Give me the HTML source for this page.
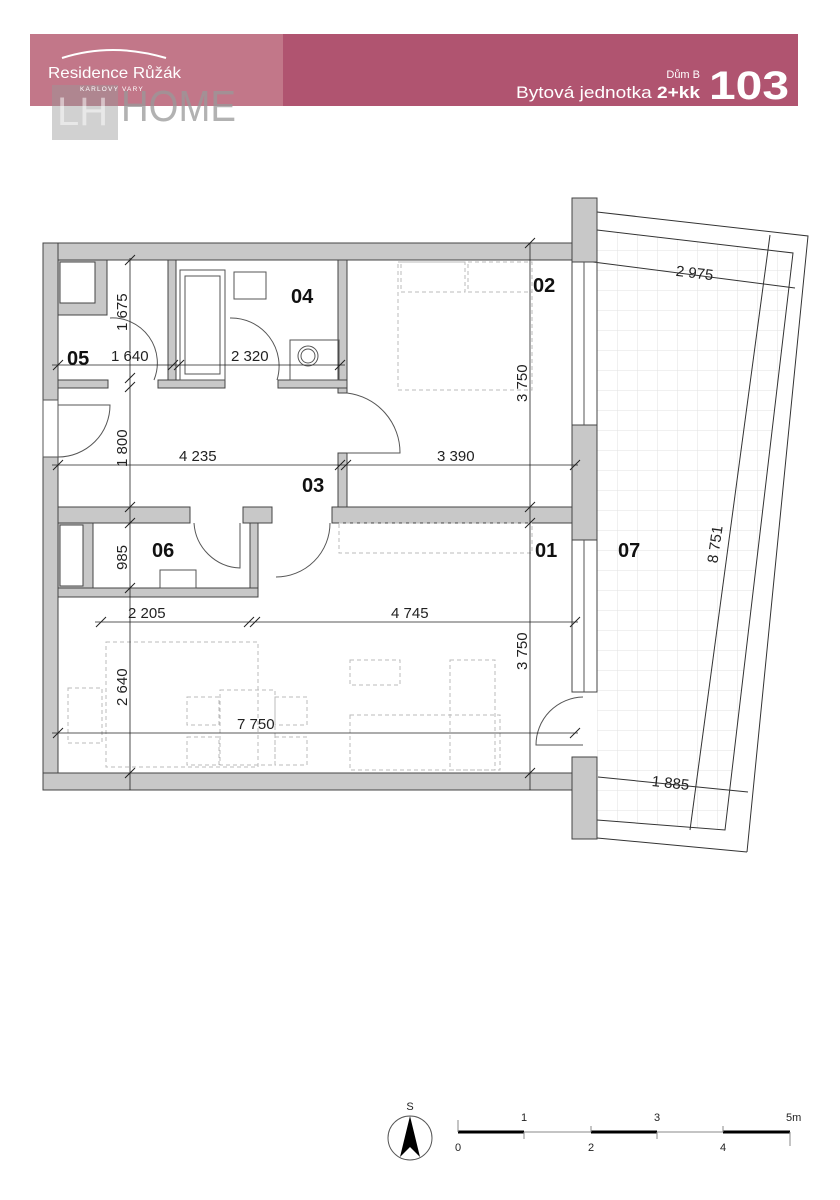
<!DOCTYPE html>
<html><head><meta charset="utf-8"><style>
html,body{margin:0;padding:0;background:#fff;}
svg{display:block;}
text{font-family:"Liberation Sans","DejaVu Sans",sans-serif;}
</style></head><body>
<svg width="840" height="1200" viewBox="0 0 840 1200" xmlns="http://www.w3.org/2000/svg">
<!-- header -->
<rect x="30" y="34" width="768" height="72" fill="#b05470"/>
<rect x="30" y="34" width="253" height="72" fill="#c27789"/>
<rect x="52" y="85" width="66" height="55" fill="#999" opacity="0.45"/>
<text x="57" y="125" font-size="40" fill="#fff" opacity="0.5">LH</text>
<text x="121" y="121" font-size="44" fill="#999" opacity="0.75" textLength="115" lengthAdjust="spacingAndGlyphs">HOME</text>
<path d="M62 58 Q112 42 166 58" stroke="#fff" stroke-width="2" fill="none"/>
<text x="48" y="78" font-size="16" fill="#fff" textLength="133" lengthAdjust="spacingAndGlyphs">Residence Růžák</text>
<text x="80" y="91" font-size="6.5" fill="#fff" letter-spacing="1.2">KARLOVY VARY</text>
<text x="700" y="78" font-size="11" fill="#fff" text-anchor="end">Dům B</text>
<text x="516" y="98" font-size="17" fill="#fff" textLength="184" lengthAdjust="spacingAndGlyphs">Bytová jednotka <tspan font-weight="bold">2+kk</tspan></text>
<text x="709" y="99" font-size="40" font-weight="bold" fill="#fff" textLength="80" lengthAdjust="spacingAndGlyphs">103</text>

<!-- terrace grid -->
<defs><pattern id="g" width="20" height="20" patternUnits="userSpaceOnUse" x="597" y="230"><path d="M0 0H20M0 0V20" stroke="#e2e2e2" stroke-width="1" fill="none"/></pattern>
<clipPath id="tc"><polygon points="597,230 793,253 725,830 597,820"/></clipPath></defs>
<rect x="597" y="225" width="200" height="610" fill="url(#g)" clip-path="url(#tc)"/>
<g stroke="#333" stroke-width="1" fill="none">
<polyline points="597,212 808,236 747,852"/>
<line x1="597" y1="838" x2="747" y2="852"/>
<polyline points="597,230 793,253 725,830 597,820"/>
<line x1="593" y1="262" x2="795" y2="288"/>
<line x1="770" y1="235" x2="690" y2="830"/>
<line x1="598" y1="777" x2="748" y2="792"/>
</g>
<g font-size="15" fill="#222">
<text x="694" y="278" transform="rotate(7 694 278)" text-anchor="middle">2 975</text>
<text x="670" y="788" transform="rotate(6 670 788)" text-anchor="middle">1 885</text>
<text x="720" y="545" transform="rotate(-82 720 545)" text-anchor="middle">8 751</text>
</g>

<!-- walls -->
<g fill="#c8c8c8" stroke="#444" stroke-width="1">
<rect x="43" y="243" width="529" height="17"/>
<rect x="572" y="198" width="25" height="64"/>
<rect x="43" y="243" width="15" height="157"/>
<rect x="43" y="457" width="15" height="329"/>
<rect x="58" y="260" width="49" height="55"/>
<rect x="168" y="260" width="8" height="128"/>
<rect x="338" y="260" width="9" height="133"/>
<rect x="338" y="453" width="9" height="70"/>
<rect x="58" y="380" width="50" height="8"/>
<rect x="158" y="380" width="67" height="8"/>
<rect x="278" y="380" width="69" height="8"/>
<rect x="58" y="507" width="132" height="16"/>
<rect x="243" y="507" width="29" height="16"/>
<rect x="332" y="507" width="240" height="16"/>
<rect x="572" y="425" width="25" height="115"/>
<rect x="572" y="757" width="25" height="82"/>
<rect x="58" y="523" width="35" height="74"/>
<rect x="250" y="523" width="8" height="74"/>
<rect x="58" y="588" width="200" height="9"/>
<rect x="43" y="773" width="529" height="17"/>
</g>
<g fill="#fff" stroke="#444" stroke-width="1">
<rect x="60" y="262" width="35" height="41"/>
<rect x="60" y="525" width="23" height="61"/>
<rect x="572" y="262" width="25" height="163" fill="none"/>
<rect x="572" y="540" width="25" height="152" fill="none"/>
</g>
<g stroke="#555" stroke-width="1" fill="none">
<line x1="584" y1="262" x2="584" y2="425"/><line x1="584" y1="540" x2="584" y2="692"/>
<rect x="43" y="400" width="15" height="57"/>
<rect x="180" y="270" width="45" height="110"/><rect x="185" y="276" width="35" height="98"/>
<rect x="234" y="272" width="32" height="27"/>
<rect x="290" y="340" width="49" height="40"/><circle cx="308" cy="356" r="10"/><circle cx="308" cy="356" r="7"/>
<rect x="160" y="570" width="36" height="18"/>
<path d="M110 318 A45 45 0 0 1 154 380"/><path d="M230 318 A48 48 0 0 1 277 380"/>
<path d="M58 457 A52 52 0 0 0 110 405 L58 405"/>
<path d="M347 393 A60 60 0 0 1 400 453 L347 453"/>
<path d="M194 523 A48 48 0 0 0 240 568 L240 523"/>
<path d="M276 577 A54 54 0 0 0 330 523"/>
<path d="M583 697 A48 48 0 0 0 536 745 L583 745"/>
</g>
<!-- dashed furniture -->
<g stroke="#bbb" stroke-width="1" fill="none" stroke-dasharray="4 3">
<rect x="401" y="262" width="64" height="30"/><rect x="468" y="262" width="64" height="30"/>
<rect x="398" y="262" width="134" height="128"/>
<rect x="339" y="523" width="193" height="30"/>
<rect x="106" y="642" width="152" height="125"/>
<rect x="350" y="660" width="50" height="25"/><rect x="450" y="660" width="45" height="110"/>
<rect x="350" y="715" width="150" height="55"/>
<rect x="220" y="690" width="55" height="75"/>
<rect x="187" y="697" width="32" height="28"/><rect x="187" y="737" width="32" height="28"/>
<rect x="275" y="697" width="32" height="28"/><rect x="275" y="737" width="32" height="28"/>
<rect x="68" y="688" width="34" height="55"/>
</g>
<!-- dimension lines -->
<g stroke="#222" stroke-width="0.8">
<line x1="130" y1="258" x2="130" y2="790"/>
<line x1="530" y1="243" x2="530" y2="790"/>
<line x1="52" y1="365" x2="345" y2="365"/>
<line x1="52" y1="465" x2="578" y2="465"/>
<line x1="95" y1="622" x2="578" y2="622"/>
<line x1="52" y1="733" x2="578" y2="733"/>
</g>
<g stroke="#222" stroke-width="1">
<path d="M125 265l10-10M125 383l10-10M125 392l10-10M125 512l10-10M125 528l10-10M125 593l10-10M125 778l10-10"/>
<path d="M525 248l10-10M525 512l10-10M525 528l10-10M525 778l10-10"/>
<path d="M53 370l10-10M168 370l10-10M174 370l10-10M335 370l10-10"/>
<path d="M53 470l10-10M335 470l10-10M341 470l10-10M570 470l10-10"/>
<path d="M96 627l10-10M244 627l10-10M250 627l10-10M570 627l10-10"/>
<path d="M53 738l10-10M570 738l10-10"/>
</g>
<g font-size="15" fill="#222">
<text x="111" y="361">1 640</text><text x="231" y="361">2 320</text>
<text x="179" y="461">4 235</text><text x="437" y="461">3 390</text>
<text x="128" y="618">2 205</text><text x="391" y="618">4 745</text>
<text x="237" y="729">7 750</text>
<text transform="translate(127 331) rotate(-90)">1 675</text>
<text transform="translate(127 467) rotate(-90)">1 800</text>
<text transform="translate(127 570) rotate(-90)">985</text>
<text transform="translate(127 706) rotate(-90)">2 640</text>
<text transform="translate(527 402) rotate(-90)">3 750</text>
<text transform="translate(527 670) rotate(-90)">3 750</text>
</g>
<g font-size="20" font-weight="bold" fill="#111">
<text x="291" y="303">04</text><text x="533" y="292">02</text><text x="67" y="365">05</text>
<text x="302" y="492">03</text><text x="152" y="557">06</text><text x="535" y="557">01</text>
<text x="618" y="557">07</text>
</g>
<!-- compass & scale -->
<circle cx="410" cy="1138" r="22" fill="none" stroke="#555"/>
<polygon points="410,1116 400,1157 410,1147 420,1157" fill="#000"/>
<text x="410" y="1110" font-size="11" text-anchor="middle" fill="#222">S</text>
<g stroke="#333">
<line x1="458" y1="1132" x2="790" y2="1132" stroke="#888"/>
<line x1="458" y1="1132" x2="524" y2="1132" stroke-width="3" stroke="#000"/>
<line x1="591" y1="1132" x2="657" y2="1132" stroke-width="3" stroke="#000"/>
<line x1="723" y1="1132" x2="790" y2="1132" stroke-width="3" stroke="#000"/>
<path d="M458 1120V1132M524 1132V1139M591 1126V1132M657 1132V1139M723 1126V1132M790 1132V1146" stroke="#888"/>
</g>
<g font-size="11" fill="#222">
<text x="455" y="1151">0</text><text x="521" y="1121">1</text><text x="588" y="1151">2</text>
<text x="654" y="1121">3</text><text x="720" y="1151">4</text><text x="786" y="1121">5m</text>
</g>
</svg>
</body></html>
